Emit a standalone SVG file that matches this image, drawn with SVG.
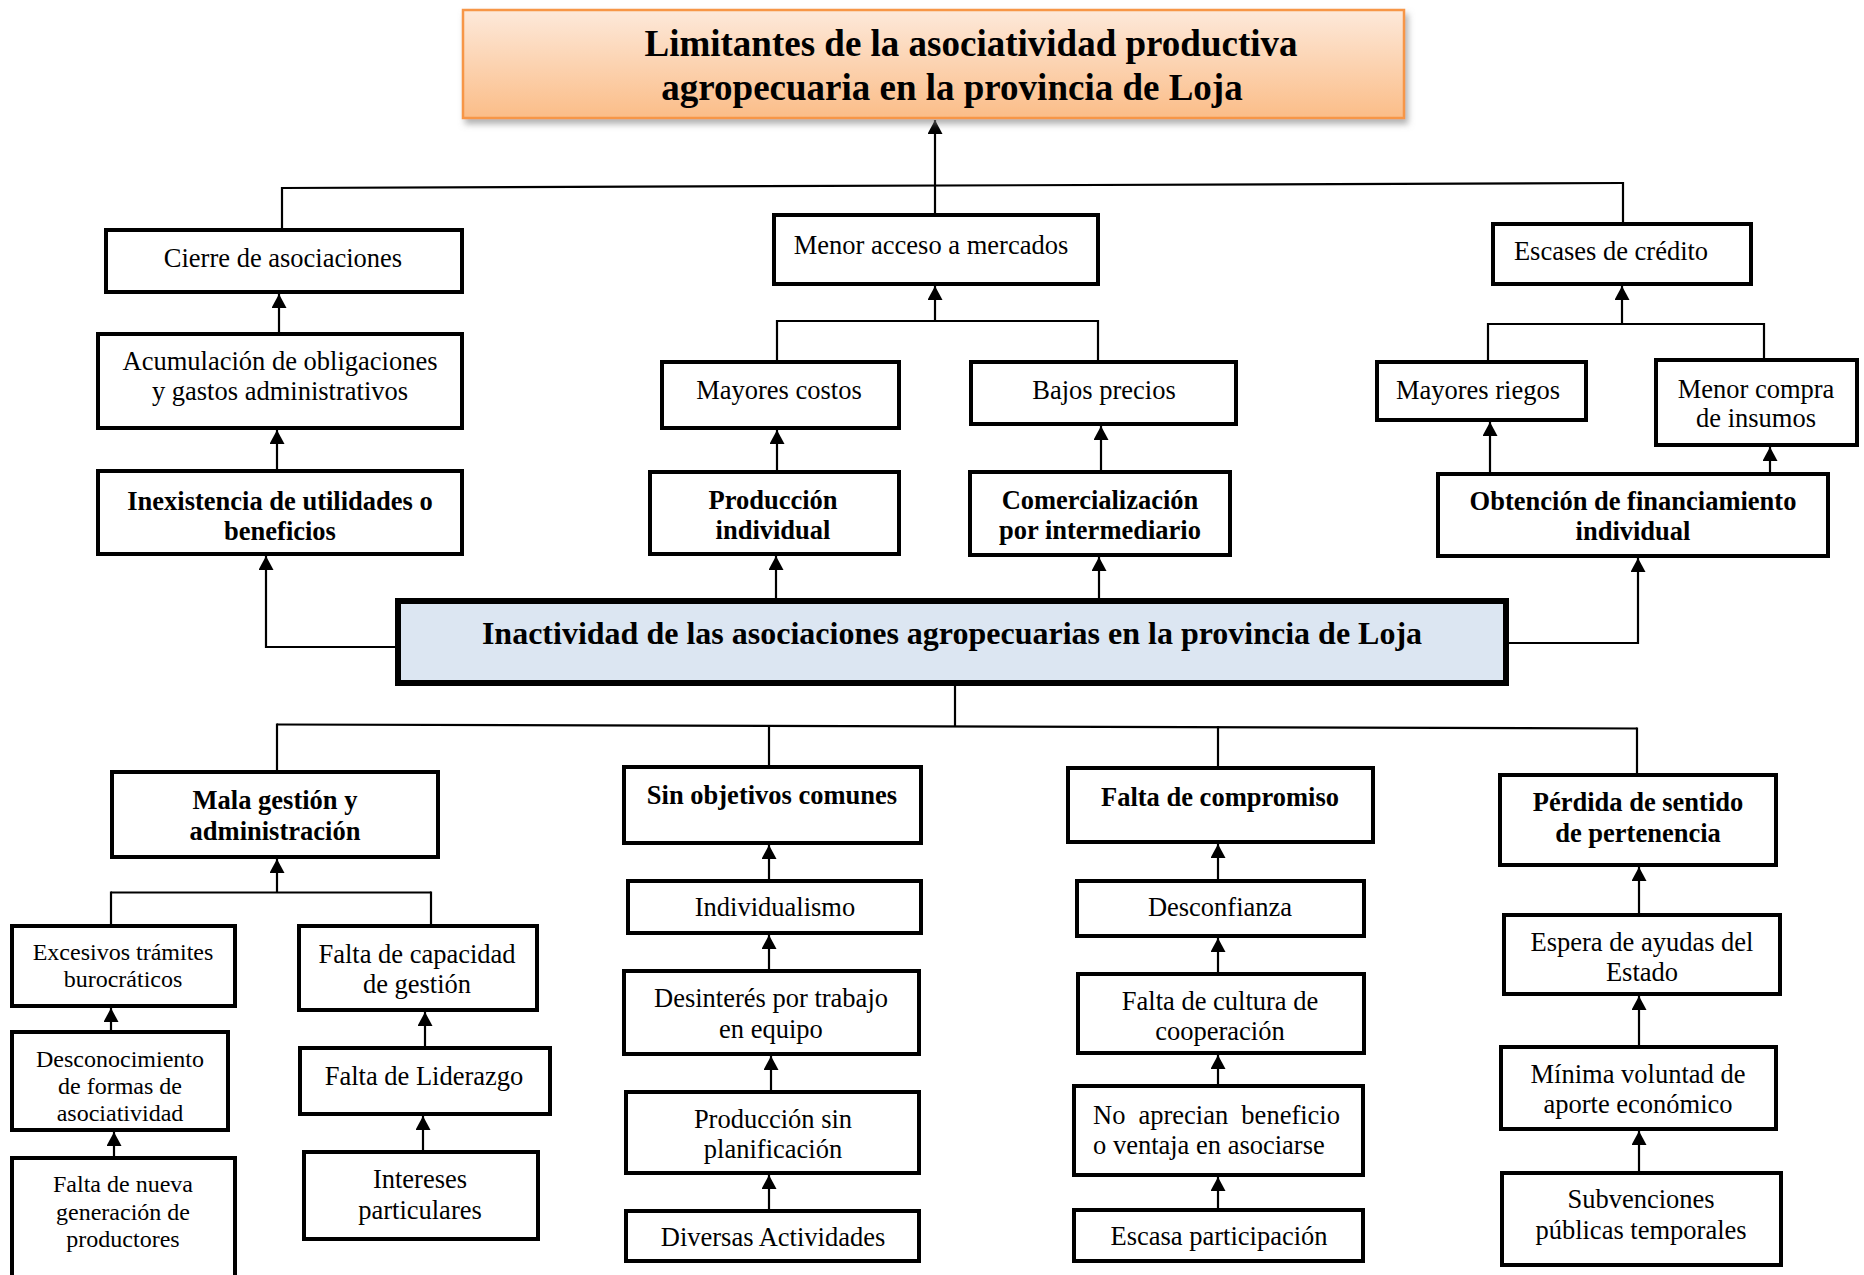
<svg xmlns="http://www.w3.org/2000/svg" width="1864" height="1275" viewBox="0 0 1864 1275">
<defs>
<linearGradient id="og" x1="0" y1="0" x2="0" y2="1">
<stop offset="0" stop-color="#fde9da"/>
<stop offset="1" stop-color="#fbbd88"/>
</linearGradient>
<filter id="sh" x="-5%" y="-20%" width="110%" height="150%">
<feDropShadow dx="3" dy="5" stdDeviation="3" flood-color="#808080" flood-opacity="0.6"/>
</filter>
<marker id="ah" markerUnits="userSpaceOnUse" markerWidth="16" markerHeight="16" refX="14" refY="7.5" orient="auto">
<path d="M0,0 L14,7.5 L0,15 z" fill="#000"/>
</marker>
</defs>
<style>
rect.n{fill:#fff;stroke:#000;stroke-width:4}
text{font-family:"Liberation Serif","Times New Roman",serif;fill:#000;text-anchor:middle;transform:translateY(1.5px)}
.b{font-weight:bold}
.s37{font-size:37px;transform:translateY(2.5px)}
.s32{font-size:32px;transform:translateY(2px)}
.s26{font-size:26.5px}
.s24{font-size:24px}
#connectors line,#connectors polyline{stroke:#000;stroke-width:2.2;fill:none}
.a{marker-end:url(#ah)}
</style>
<rect width="1864" height="1275" fill="#fff"/>

<g id="connectors">
<line class="a" x1="935" y1="213" x2="935" y2="120"/>
<line x1="282" y1="188" x2="1623" y2="183"/>
<line x1="282" y1="187" x2="282" y2="228"/>
<line x1="1623" y1="182" x2="1623" y2="222"/>
<line class="a" x1="279" y1="332" x2="279" y2="294"/>
<line class="a" x1="277" y1="470" x2="277" y2="430"/>
<polyline class="a" points="396,647 266,647 266,556"/>
<line class="a" x1="935" y1="321" x2="935" y2="286"/>
<line x1="777" y1="321" x2="1098" y2="321"/>
<line x1="777" y1="320" x2="777" y2="360"/>
<line x1="1098" y1="320" x2="1098" y2="360"/>
<line class="a" x1="777" y1="470" x2="777" y2="430"/>
<line class="a" x1="776" y1="598" x2="776" y2="556"/>
<line class="a" x1="1101" y1="470" x2="1101" y2="426"/>
<line class="a" x1="1099" y1="598" x2="1099" y2="557"/>
<line class="a" x1="1622" y1="324" x2="1622" y2="286"/>
<line x1="1488" y1="324" x2="1764" y2="324"/>
<line x1="1488" y1="323" x2="1488" y2="360"/>
<line x1="1764" y1="323" x2="1764" y2="358"/>
<line class="a" x1="1490" y1="472" x2="1490" y2="422"/>
<line class="a" x1="1770" y1="472" x2="1770" y2="447"/>
<polyline class="a" points="1508,643 1638,643 1638,558"/>
<line x1="955" y1="686" x2="955" y2="727"/>
<line x1="277" y1="724.5" x2="1637" y2="728.5"/>
<line x1="277" y1="723.5" x2="277" y2="770"/>
<line x1="769" y1="725" x2="769" y2="765"/>
<line x1="1218" y1="726" x2="1218" y2="766"/>
<line x1="1637" y1="727.5" x2="1637" y2="773"/>
<line class="a" x1="277" y1="892.5" x2="277" y2="859"/>
<line x1="111" y1="892.5" x2="431" y2="892.5"/>
<line x1="111" y1="891.5" x2="111" y2="924"/>
<line x1="431" y1="891.5" x2="431" y2="924"/>
<line class="a" x1="111" y1="1030" x2="111" y2="1008"/>
<line class="a" x1="114" y1="1156" x2="114" y2="1132"/>
<line class="a" x1="425" y1="1046" x2="425" y2="1012"/>
<line class="a" x1="423" y1="1150" x2="423" y2="1116"/>
<line class="a" x1="769" y1="879" x2="769" y2="845"/>
<line class="a" x1="769" y1="969" x2="769" y2="935"/>
<line class="a" x1="771" y1="1090" x2="771" y2="1056"/>
<line class="a" x1="769" y1="1209" x2="769" y2="1175"/>
<line class="a" x1="1218" y1="879" x2="1218" y2="844"/>
<line class="a" x1="1218" y1="972" x2="1218" y2="938"/>
<line class="a" x1="1218" y1="1084" x2="1218" y2="1055"/>
<line class="a" x1="1218" y1="1208" x2="1218" y2="1177"/>
<line class="a" x1="1639" y1="913" x2="1639" y2="867"/>
<line class="a" x1="1639" y1="1045" x2="1639" y2="996"/>
<line class="a" x1="1639" y1="1171" x2="1639" y2="1131"/>
</g>

<g id="title">
<rect x="463" y="10" width="941" height="108" fill="url(#og)" stroke="#f79646" stroke-width="2.5" filter="url(#sh)"/>
<text class="b s37" x="971" y="53">Limitantes de la asociatividad productiva</text>
<text class="b s37" x="952" y="97">agropecuaria en la provincia de Loja</text>
</g>

<g id="cierre"><rect class="n" x="106" y="230" width="356" height="62"/>
<text class="s26" x="283" y="265">Cierre de asociaciones</text></g>
<g id="acumulacion"><rect class="n" x="98" y="334" width="364" height="94"/>
<text class="s26" x="280" y="368">Acumulación de obligaciones</text>
<text class="s26" x="280" y="398">y gastos administrativos</text></g>
<g id="inexistencia"><rect class="n" x="98" y="471" width="364" height="83"/>
<text class="b s26" x="280" y="508">Inexistencia de utilidades o</text>
<text class="b s26" x="280" y="538">beneficios</text></g>

<g id="menor-acceso"><rect class="n" x="774" y="215" width="324" height="69"/>
<text class="s26" x="931" y="252">Menor acceso a mercados</text></g>
<g id="mayores-costos"><rect class="n" x="662" y="362" width="237" height="66"/>
<text class="s26" x="779" y="397">Mayores costos</text></g>
<g id="bajos-precios"><rect class="n" x="971" y="362" width="265" height="62"/>
<text class="s26" x="1104" y="397">Bajos precios</text></g>
<g id="produccion-individual"><rect class="n" x="650" y="472" width="249" height="82"/>
<text class="b s26" x="773" y="507">Producción</text>
<text class="b s26" x="773" y="537">individual</text></g>
<g id="comercializacion"><rect class="n" x="970" y="472" width="260" height="83"/>
<text class="b s26" x="1100" y="507">Comercialización</text>
<text class="b s26" x="1100" y="537">por intermediario</text></g>

<g id="escases"><rect class="n" x="1493" y="224" width="258" height="60"/>
<text class="s26" x="1611" y="258">Escases de crédito</text></g>
<g id="mayores-riegos"><rect class="n" x="1377" y="362" width="209" height="58"/>
<text class="s26" x="1478" y="397">Mayores riegos</text></g>
<g id="menor-compra"><rect class="n" x="1656" y="360" width="201" height="85"/>
<text class="s26" x="1756" y="396">Menor compra</text>
<text class="s26" x="1756" y="425">de insumos</text></g>
<g id="obtencion"><rect class="n" x="1438" y="474" width="390" height="82"/>
<text class="b s26" x="1633" y="508">Obtención de financiamiento</text>
<text class="b s26" x="1633" y="538">individual</text></g>

<g id="inactividad"><rect x="398" y="601" width="1108" height="82" fill="#dce6f2" stroke="#000" stroke-width="6"/>
<text class="b s32" x="952" y="642">Inactividad de las asociaciones agropecuarias en la provincia de Loja</text></g>

<g id="mala-gestion"><rect class="n" x="112" y="772" width="326" height="85"/>
<text class="b s26" x="275" y="807">Mala gestión y</text>
<text class="b s26" x="275" y="838">administración</text></g>
<g id="excesivos"><rect class="n" x="12" y="926" width="223" height="80"/>
<text class="s24" x="123" y="958">Excesivos trámites</text>
<text class="s24" x="123" y="985">burocráticos</text></g>
<g id="falta-capacidad"><rect class="n" x="299" y="926" width="238" height="84"/>
<text class="s26" x="417" y="961">Falta de capacidad</text>
<text class="s26" x="417" y="991">de gestión</text></g>
<g id="desconocimiento"><rect class="n" x="12" y="1032" width="216" height="98"/>
<text class="s24" x="120" y="1065">Desconocimiento</text>
<text class="s24" x="120" y="1092">de formas de</text>
<text class="s24" x="120" y="1119">asociatividad</text></g>
<g id="falta-liderazgo"><rect class="n" x="300" y="1048" width="250" height="66"/>
<text class="s26" x="424" y="1083">Falta de Liderazgo</text></g>
<g id="falta-nueva"><rect class="n" x="12" y="1158" width="223" height="130"/>
<text class="s24" x="123" y="1190">Falta de nueva</text>
<text class="s24" x="123" y="1218">generación de</text>
<text class="s24" x="123" y="1245">productores</text></g>
<g id="intereses"><rect class="n" x="304" y="1152" width="234" height="87"/>
<text class="s26" x="420" y="1186">Intereses</text>
<text class="s26" x="420" y="1217">particulares</text></g>

<g id="sin-objetivos"><rect class="n" x="624" y="767" width="297" height="76"/>
<text class="b s26" x="772" y="802">Sin objetivos comunes</text></g>
<g id="individualismo"><rect class="n" x="628" y="881" width="293" height="52"/>
<text class="s26" x="775" y="914">Individualismo</text></g>
<g id="desinteres"><rect class="n" x="624" y="971" width="295" height="83"/>
<text class="s26" x="771" y="1005">Desinterés por trabajo</text>
<text class="s26" x="771" y="1036">en equipo</text></g>
<g id="produccion-sin"><rect class="n" x="626" y="1092" width="293" height="81"/>
<text class="s26" x="773" y="1126">Producción sin</text>
<text class="s26" x="773" y="1156">planificación</text></g>
<g id="diversas"><rect class="n" x="626" y="1211" width="293" height="50"/>
<text class="s26" x="773" y="1244">Diversas Actividades</text></g>

<g id="falta-compromiso"><rect class="n" x="1068" y="768" width="305" height="74"/>
<text class="b s26" x="1220" y="804">Falta de compromiso</text></g>
<g id="desconfianza"><rect class="n" x="1077" y="881" width="287" height="55"/>
<text class="s26" x="1220" y="914">Desconfianza</text></g>
<g id="falta-cultura"><rect class="n" x="1078" y="974" width="286" height="79"/>
<text class="s26" x="1220" y="1008">Falta de cultura de</text>
<text class="s26" x="1220" y="1038">cooperación</text></g>
<g id="no-aprecian"><rect class="n" x="1074" y="1086" width="289" height="89"/>
<text class="s26" x="1093" y="1122" style="text-anchor:start;word-spacing:6.5px">No aprecian beneficio</text>
<text class="s26" x="1093" y="1152" style="text-anchor:start">o ventaja en asociarse</text></g>
<g id="escasa"><rect class="n" x="1074" y="1210" width="289" height="51"/>
<text class="s26" x="1219" y="1243">Escasa participación</text></g>

<g id="perdida"><rect class="n" x="1500" y="775" width="276" height="90"/>
<text class="b s26" x="1638" y="809">Pérdida de sentido</text>
<text class="b s26" x="1638" y="840">de pertenencia</text></g>
<g id="espera"><rect class="n" x="1504" y="915" width="276" height="79"/>
<text class="s26" x="1642" y="949">Espera de ayudas del</text>
<text class="s26" x="1642" y="979">Estado</text></g>
<g id="minima"><rect class="n" x="1501" y="1047" width="275" height="82"/>
<text class="s26" x="1638" y="1081">Mínima voluntad de</text>
<text class="s26" x="1638" y="1111">aporte económico</text></g>
<g id="subvenciones"><rect class="n" x="1502" y="1173" width="279" height="92"/>
<text class="s26" x="1641" y="1206">Subvenciones</text>
<text class="s26" x="1641" y="1237">públicas temporales</text></g>
</svg>
